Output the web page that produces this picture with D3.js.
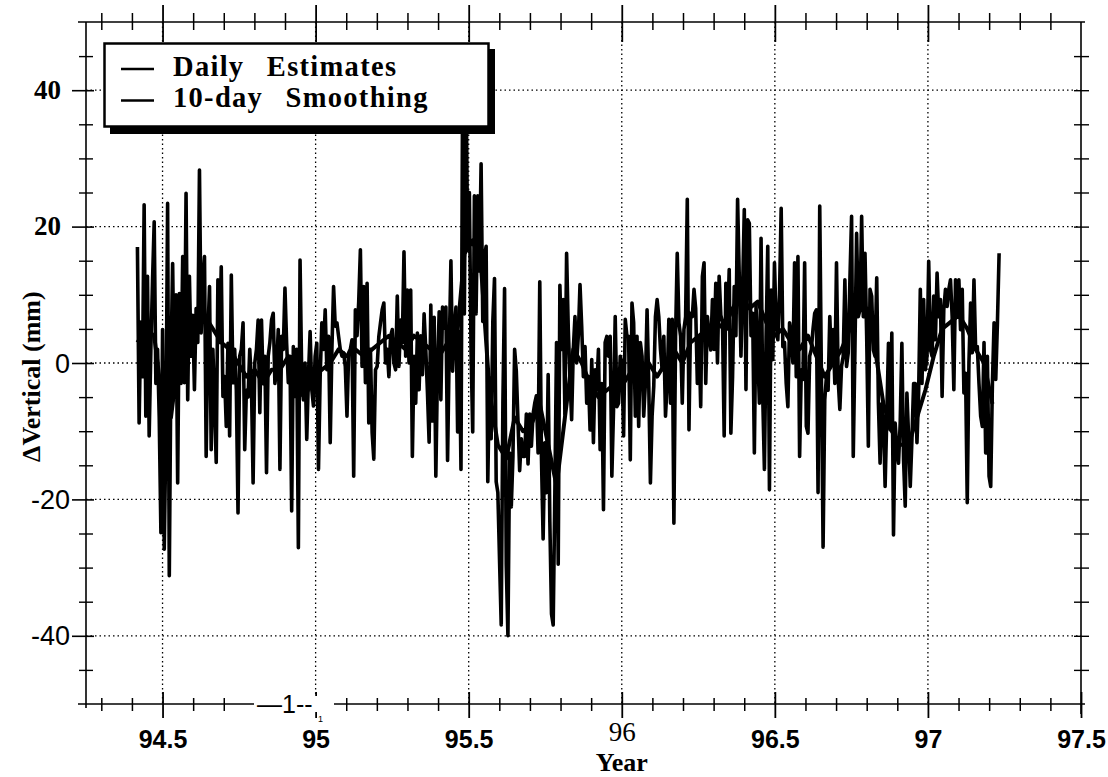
<!DOCTYPE html>
<html>
<head>
<meta charset="utf-8">
<script src="https://cdn.jsdelivr.net/npm/d3@7"></script>
<style>
  html, body { margin: 0; padding: 0; background: #fff; }
  svg { display: block; }
</style>
</head>
<body>
<div id="chart"></div>
<script>
// Daily estimates of the vertical change (mm), every second day
const dailyStart = 94.418;      // decimal year of the first estimate
const dailyStepDays = 2;
const dailyValues = [
  17,-8.8,6,-2,23.2,-7.8,12.7,-10.7,2,12, 20.7,-3,2,-8,-24.9,4.9,-27.3,-10,23.4,-31.2,
  0,14.6,-5,10,-17.6,10.2,-3,15.6,-2.9,24.9, -5.4,12.7,1,7,-3.9,8,3,28.3,4.4,12,
  15.6,-13.7,4,11.2,-12.7,2,-6,-14.6,12.2,3, 14.1,-4.9,-2,-9.3,2.9,-10.7,12.9,-2.9,2,-4,
  -22,1,2,5.9,-12.7,-4,-5,2,-3,-17.6, 0,2,6.3,-7.3,6.3,-3,1,-16.1,1,3, 6.3,7.3,-3,
  -1,4.9,-15.6,3.9,2,11,2.9,-2.9,1,-21.7, 2.4,-4.9,2,-27.1,15.1,-2,-5.4,0,-11.2,-2,
  4.6,-3.9,-6.3,1,2.9,-15.6,-2,5.9,2,7.8, -1,3.9,-11.7,2,11.2,5.4,5.9,3.9,2,1,
  1.5,-0.5,-7.8,1.5,2,3.4,-16.6,7.8,4,9, 16.6,-0.5,11.2,-2.9,11.7,-8.8,2,-10.2,-14.1,-1,
  -0.5,3.9,5.9,7.8,8.8,0,2,-2,3.9,4.9, 0,-1,9.8,-0.5,6.3,3,16.3,1,10.7,0, 10.7,-13.7,1,-5.9,4.4,-3.9,
  4,-1.7,7.2,2,-4.3,-11.6,8.5,-8.5,6.7,-16.6, -0.7,7.5,-5.4,8.2,5.1,8.2,-14.3,2,15,-1.2,
  5.1,8.2,-10.1,4.6,-15.6,42,7.2,42,16.6,25, 2,-10.1,24.5,7.2,24.5,13.5,29.2,6.1,15.6,17.1,
  -17.4,-2.2,-11.1,6.1,12.4,-17.4,-19,-28.9,-38.4,-5.9, 10.9,-29.5,-40,-13.2,-21.1,-13.7,2,-1.2,-8.5,-15.8,
  -11.1,-13.7,-13.7,-7.5,-14.8,-7.5,-12.2,-7.5,-5.9,-4.8, -13.2,11.9,-13.7,-25.8,-11.7,-19,-1.7,-23.2,-36.8,-38.4,
  -19,3,-29.5,11.4,2,9.3,-7.5,
  16.1,5,-2,-8.3,2,6.8,0,4,11.5,5.4, -2,2.4,-5.9,-2,-9.8,0.5,-11.7,-1,-3.9,2,
  -12.7,-3,-21.5,3,3.9,1,3.9,-16.6,-6.8,6.8, -6.4,-5.9,1,0,-10.7,6.4,3.9,3.9,-14.2,8.8,
  5.9,-7.8,3.9,-9.3,3,1,-7.8,-3,7.8,-3, -17.6,-7.8,-3.4,6.8,9.3,6.8,2,-1,3.9,-7.8,
  -3,6.4,-5.9,6.4,-23.5,3.9,16.1,5.9,3.9,-5.9, 4.9,6.8,24,-9.8,7.3,6.8,10.8,8,-3,3.9,
  -6.4,12.7,14.7,-3,6.8,3.9,
  1.9,9.3,2,11.7,0,12.7,7,5.9,-10.7,11.7, 5,13.7,-10.3,-2,11.2,4,24,12.7,1,10.7,
  22.5,-3.9,21,20.5,4,7.3,-13.2,8.3,2,-5.9, 18.3,-4.9,-15.6,4,17.1,-18.6,10.7,0.5,14.7,5.9,
  3.4,10,22.7,2.4,3,-3,-6.4,5.9,3.9,0, 14.7,-2,15.6,-13.7,-1,-2.4,14.7,-9.3,-10.3,1,
  2,5,7.3,7.8,-19,23,-2,-27,-5.4,-2, -4,6.8,0,4.9,-3,14.7,-2.4,-6.8,-0.5,1,
  12.2,-0.5,1.5,12.2,21.5,-13.7,2,
  19,6.8,7.8,21.5,6.8,16.1,4,-12.2,10.8,9.8, 1.9,1,12.5,-5.9,-14.7,-6,-8,-18.1,-8,2.9,
  -9.8,4.4,-25.2,-8.8,-12.7,-14.7,-8.8,2.9,-14.2,-21, -4.4,-10.7,-18.1,-11.2,-3,-3,-11.7,-4.4,10.8,-3,
  9.3,-1,1,14.9,2,1,9.8,3.4,13.2,6.8, 9.3,-4.9,7.8,10.8,8.3,10.8,12.2,6.8,-3.9,12.2,
  6.8,12.2,4.9,10.8,-4.4,-1.5,-20.5,0,8.8,1.5, 12.2,2,2.4,-3,-7.8,-9.3,3,-13.2,1,-16.6,
  -18.1,-3,5.9,-2.4,5.9,16.1
];

// 10-day smoothing (mm)
const smoothStart = 94.418;
const smoothStepDays = 10;
const smoothValues = [
  3,5,4,-6,-8,2,4,6,7,5,3,2,0,-2,-1,-3,-1,
  -1,1,-4,-5,-2,-1,0,2,1,2,1,2,3,4,3,2,4,
  3,2,1,3,2,16,18,14,-4,-12,-14,-8,-10,-9,-6,-12,-18,-8,
  2,0,-3,-5,-4,-3,-3,-1,-2,0,-2,0,2,0,3,4,5,
  6,5,8,10,8,9,6,4,5,3,2,4,1,-2,0,2,5,
  9,8,2,-6,-10,-12,-12,-8,-4,1,5,6,7,5,2,0,-6
];

const yearTicks = [94.5, 95, 95.5, 96, 96.5, 97, 97.5];
const yearMinorTicks = [94.3, 94.4, 94.6, 94.7, 94.8, 94.9, 95.1, 95.2, 95.3, 95.4,
  95.6, 95.7, 95.8, 95.9, 96.1, 96.2, 96.3, 96.4, 96.6, 96.7, 96.8, 96.9,
  97.1, 97.2, 97.3, 97.4];
const yearGrid = [94.5, 95, 95.5, 96, 96.5, 97];
const vertTicks = [-40, -20, 0, 20, 40];
const vertMinorTicks = [-45, -35, -30, -25, -15, -10, -5, 5, 10, 15, 25, 30, 35, 45];
const legendLabels = ["Daily Estimates", "10-day Smoothing"];

const width = 1108, height = 777;
const serif = "'Liberation Serif', 'Times New Roman', serif";
const sans = "'Liberation Sans', Arial, sans-serif";

const svg = d3.select("#chart").append("svg")
  .attr("width", width)
  .attr("height", height);

svg.append("rect").attr("width", width).attr("height", height).attr("fill", "#fff");

const x = d3.scaleLinear().domain([94.25, 97.5]).range([86, 1081]);
const y = d3.scaleLinear().domain([-50, 50]).range([704, 22]);

// dotted grid
const grid = svg.append("g")
  .attr("stroke", "#000")
  .attr("stroke-width", 1.3)
  .attr("stroke-dasharray", "1.5,3");
grid.selectAll(".hgrid").data(vertTicks).enter().append("line")
  .attr("x1", x(94.25)).attr("x2", x(97.5))
  .attr("y1", d => y(d)).attr("y2", d => y(d));
grid.selectAll(".vgrid").data(yearGrid).enter().append("line")
  .attr("x1", d => x(d)).attr("x2", d => x(d))
  .attr("y1", y(50)).attr("y2", y(-50));

// series
const dayToYear = (start, stepDays) => (d, i) => x(start + i * stepDays / 365.25);

svg.append("path")
  .datum(dailyValues)
  .attr("fill", "none")
  .attr("stroke", "#000")
  .attr("stroke-width", 3.6)
  .attr("stroke-linejoin", "round")
  .attr("d", d3.line().x(dayToYear(dailyStart, dailyStepDays)).y(d => y(d)));

svg.append("path")
  .datum(smoothValues)
  .attr("fill", "none")
  .attr("stroke", "#000")
  .attr("stroke-width", 4)
  .attr("stroke-linejoin", "round")
  .attr("d", d3.line().x(dayToYear(smoothStart, smoothStepDays)).y(d => y(d)));

// frame
const frame = svg.append("g").attr("stroke", "#000").attr("stroke-width", 1.6);
frame.append("line").attr("x1", x(94.25)).attr("x2", x(94.25)).attr("y1", y(50)).attr("y2", y(-50) + 4);
frame.append("line").attr("x1", x(97.5)).attr("x2", x(97.5)).attr("y1", y(50)).attr("y2", y(-50) + 10);
frame.append("line").attr("x1", x(94.25) - 8).attr("x2", x(97.5) + 4).attr("y1", y(50)).attr("y2", y(50));
frame.append("line").attr("x1", x(94.25) - 8).attr("x2", x(97.5) + 4).attr("y1", y(-50)).attr("y2", y(-50));

// bottom axis
const bottomMajor = svg.append("g")
  .attr("transform", `translate(0,${y(-50)})`)
  .call(d3.axisBottom(x).tickValues(yearTicks).tickSize(14).tickFormat(d => String(d)));
bottomMajor.select(".domain").remove();
bottomMajor.selectAll(".tick line").attr("y1", -12).attr("y2", 14).attr("stroke-width", 1.8);
bottomMajor.selectAll(".tick text")
  .attr("y", d => d === 96 ? 37 : 44).attr("dy", 0)
  .attr("fill", "#000")
  .style("font-family", d => d === 96 ? serif : sans)
  .style("font-weight", d => d === 96 ? "normal" : "bold")
  .style("font-size", d => d === 96 ? "27px" : "25px");

const bottomMinor = svg.append("g")
  .attr("transform", `translate(0,${y(-50)})`)
  .call(d3.axisBottom(x).tickValues(yearMinorTicks).tickSize(7).tickFormat(""));
bottomMinor.select(".domain").remove();
bottomMinor.selectAll(".tick line").attr("y1", -6).attr("y2", 7).attr("stroke-width", 1.5);

// top axis (ticks only)
const topMajor = svg.append("g")
  .attr("transform", `translate(0,${y(50)})`)
  .call(d3.axisBottom(x).tickValues(yearTicks.slice(0, -1)).tickSize(20).tickFormat(""));
topMajor.select(".domain").remove();
topMajor.selectAll(".tick line").attr("y1", -17).attr("y2", 20).attr("stroke-width", 1.8);

const topMinor = svg.append("g")
  .attr("transform", `translate(0,${y(50)})`)
  .call(d3.axisBottom(x).tickValues(yearMinorTicks).tickSize(8).tickFormat(""));
topMinor.select(".domain").remove();
topMinor.selectAll(".tick line").attr("y1", -9).attr("y2", 8).attr("stroke-width", 1.5);

// left axis
const leftMajor = svg.append("g")
  .attr("transform", `translate(${x(94.25)},0)`)
  .call(d3.axisLeft(y).tickValues(vertTicks).tickSize(14).tickFormat(d => String(d)));
leftMajor.select(".domain").remove();
leftMajor.selectAll(".tick line").attr("x1", 8).attr("x2", -14).attr("stroke-width", 1.6);
leftMajor.selectAll(".tick text")
  .attr("fill", "#000")
  .attr("x", d => d > 0 ? -25 : -16)
  .attr("dy", d => d > 0 ? "0.3em" : "0.34em")
  .style("font-family", d => d > 0 ? serif : sans)
  .style("font-weight", d => d > 0 ? "bold" : "normal")
  .style("font-size", "27px");

const leftMinor = svg.append("g")
  .attr("transform", `translate(${x(94.25)},0)`)
  .call(d3.axisLeft(y).tickValues(vertMinorTicks).tickSize(7).tickFormat(""));
leftMinor.select(".domain").remove();
leftMinor.selectAll(".tick line").attr("x1", 7).attr("x2", -7).attr("stroke-width", 1.4);

// right axis (ticks only)
const rightTicks = svg.append("g")
  .attr("transform", `translate(${x(97.5)},0)`)
  .call(d3.axisRight(y).tickValues(vertTicks.concat(vertMinorTicks)).tickSize(7).tickFormat(""));
rightTicks.select(".domain").remove();
rightTicks.selectAll(".tick line").attr("x1", -7).attr("x2", 8).attr("stroke-width", 1.4);

// scanned glyphs sitting on the bottom axis
svg.append("rect")
  .attr("x", 254).attr("y", y(-50) - 8)
  .attr("width", 80).attr("height", 16)
  .attr("fill", "#fff");
svg.append("text")
  .attr("x", 257).attr("y", y(-50) + 9)
  .style("font-family", sans).style("font-size", "25px")
  .text("\u20141--");
svg.append("text")
  .attr("x", 318).attr("y", y(-50) + 18)
  .style("font-family", sans).style("font-size", "9px")
  .text("1");

// axis titles
svg.append("text")
  .attr("x", x(96)).attr("y", 771)
  .attr("text-anchor", "middle")
  .style("font-family", serif).style("font-weight", "bold").style("font-size", "26px")
  .text("Year");

svg.append("text")
  .attr("transform", `translate(40,${y(-2)}) rotate(-90)`)
  .attr("text-anchor", "middle")
  .style("font-family", serif).style("font-weight", "bold").style("font-size", "26px")
  .text("\u0394Vertical (mm)");

// legend with drop shadow
const legend = svg.append("g");
legend.append("rect")
  .attr("x", 110).attr("y", 49).attr("width", 385).attr("height", 85)
  .attr("fill", "#000");
legend.append("rect")
  .attr("x", 104.5).attr("y", 43.5).attr("width", 384).attr("height", 83)
  .attr("fill", "#fff").attr("stroke", "#000").attr("stroke-width", 2.5);

const rows = legend.selectAll(".row").data(legendLabels).enter().append("g")
  .attr("transform", (d, i) => `translate(0,${i * 31.5})`);
rows.append("line")
  .attr("x1", 121).attr("x2", 154).attr("y1", 69).attr("y2", 69)
  .attr("stroke", "#000").attr("stroke-width", 2.5);
rows.append("text")
  .attr("x", 173).attr("y", 75.5)
  .style("font-family", serif).style("font-weight", "bold").style("font-size", "28.5px")
  .style("letter-spacing", "1.3px")
  .style("word-spacing", "14px")
  .text(d => d);
</script>
</body>
</html>
